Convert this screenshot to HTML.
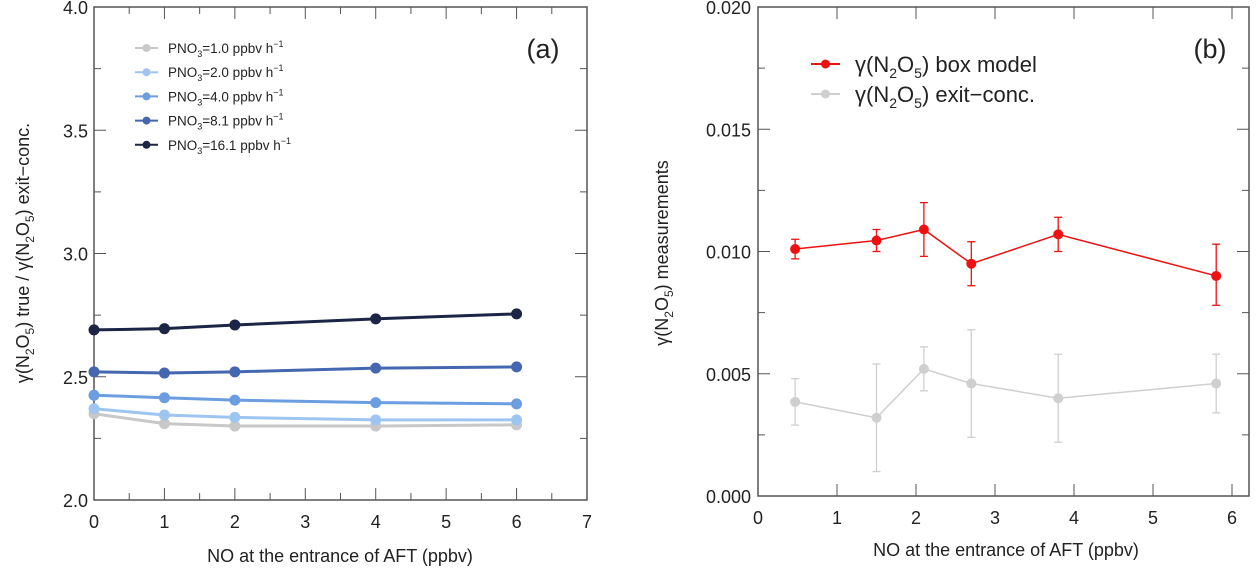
<!DOCTYPE html>
<html><head><meta charset="utf-8">
<style>
body{margin:0;background:#fff;width:1256px;height:576px;overflow:hidden}
svg{font-family:"Liberation Sans",sans-serif}
</style></head>
<body>
<svg id="c" width="1256" height="576"></svg>
<script>
const xA = [0,1,2,4,6];
const seriesNames = ["PNO3=1.0","PNO3=2.0","PNO3=4.0","PNO3=8.1","PNO3=16.1"];
const legendRates = ["1.0","2.0","4.0","8.1","16.1"];
const s1 = [2.35,2.31,2.30,2.30,2.305];
const s2 = [2.37,2.345,2.335,2.325,2.325];
const s4 = [2.425,2.415,2.405,2.395,2.39];
const s8 = [2.52,2.515,2.52,2.535,2.54];
const s16 = [2.69,2.695,2.71,2.735,2.755];
const colorsA = ["#c8c8c8","#9ec5f0","#6b9de0","#4567b0","#1c2545"];
const xTicksA = [0,1,2,3,4,5,6,7];
const yTicksA = [2.0,2.5,3.0,3.5,4.0];

const xB = [0.47,1.5,2.1,2.7,3.8,5.8];
const boxVal = [0.0101,0.01045,0.0109,0.0095,0.0107,0.0090];
const boxHi = [0.0105,0.0109,0.0120,0.0104,0.0114,0.0103];
const boxLo = [0.0097,0.0100,0.0098,0.0086,0.0100,0.0078];
const exitVal = [0.00385,0.0032,0.0052,0.0046,0.0040,0.0046];
const exitHi = [0.0048,0.0054,0.0061,0.0068,0.0058,0.0058];
const exitLo = [0.0029,0.0010,0.0043,0.0024,0.0022,0.0034];
const xTicksB = [0,1,2,3,4,5,6];
const yTicksB = [0.000,0.005,0.010,0.015,0.020];

const NS="http://www.w3.org/2000/svg";
const svg=document.getElementById('c');
function el(t,a,p){const e=document.createElementNS(NS,t);for(const k in a)e.setAttribute(k,a[k]);(p||svg).appendChild(e);return e;}

// Panel A
const A={l:94,r:587,t:7,b:500,x0:0,x1:7,y0:2,y1:4};
const ax=v=>A.l+(v-A.x0)/(A.x1-A.x0)*(A.r-A.l);
const ay=v=>A.b-(v-A.y0)/(A.y1-A.y0)*(A.b-A.t);
const gA=el('g',{});


const frA=el('rect',{x:A.l,y:A.t,width:A.r-A.l,height:A.b-A.t,fill:'none',stroke:'#555','stroke-width':1.5},gA);


for(let v=0;v<=7.001;v+=0.5){const L=(Math.abs(v-Math.round(v))<1e-6)?12:7;const x=ax(v);
 el('line',{x1:x,x2:x,y1:A.b,y2:A.b-L,stroke:'#555'},gA);el('line',{x1:x,x2:x,y1:A.t,y2:A.t+L,stroke:'#555'},gA);}
for(let v=2;v<=4.001;v+=0.25){const L=(Math.abs(v*2-Math.round(v*2))<1e-6)?12:7;const y=ay(v);
 el('line',{x1:A.l,x2:A.l+L,y1:y,y2:y,stroke:'#555'},gA);el('line',{x1:A.r,x2:A.r-L,y1:y,y2:y,stroke:'#555'},gA);}
xTicksA.forEach(v=>{const t=el('text',{x:ax(v),y:528,'text-anchor':'middle','font-size':18,fill:'#222'},gA);t.textContent=v;
 });
yTicksA.forEach(v=>{const t=el('text',{x:A.l-6,y:ay(v)+7,'text-anchor':'end','font-size':18,fill:'#222'},gA);t.textContent=v.toFixed(1);
 });
const xtA=el('text',{x:340,y:562,'text-anchor':'middle','font-size':18,fill:'#222'},gA);xtA.textContent='NO at the entrance of AFT (ppbv)';

const ytA=el('text',{transform:'translate(29,253) rotate(-90)','text-anchor':'middle','font-size':18,fill:'#222'},gA);
ytA.innerHTML='γ(N<tspan font-size="12" dy="5">2</tspan><tspan dy="-5">O</tspan><tspan font-size="12" dy="5">5</tspan><tspan dy="-5">) true / γ(N</tspan><tspan font-size="12" dy="5">2</tspan><tspan dy="-5">O</tspan><tspan font-size="12" dy="5">5</tspan><tspan dy="-5">) exit−conc.</tspan>';

const lab=el('text',{x:543,y:58,'text-anchor':'middle','font-size':27,fill:'#222'},gA);lab.textContent='(a)';

[s1,s2,s4,s8,s16].forEach((s,i)=>{
 const pl=el('polyline',{points:s.map((v,j)=>ax(xA[j])+','+ay(v)).join(' '),fill:'none',stroke:colorsA[i],'stroke-width':3},gA);
 
 s.forEach((v,j)=>{const c=el('circle',{cx:ax(xA[j]),cy:ay(v),r:5.5,fill:colorsA[i]},gA);
  });
});
legendRates.forEach((r,i)=>{const y=48+i*24.2;
 const g=el('g',{},gA);
 el('line',{x1:135,x2:158,y1:y,y2:y,stroke:colorsA[i],'stroke-width':2},g);
 el('circle',{cx:146.5,cy:y,r:4,fill:colorsA[i]},g);
 const t=el('text',{x:168,y:y+5,'font-size':13.5,fill:'#222'},g);
 t.innerHTML='PNO<tspan font-size="9" dy="4">3</tspan><tspan dy="-4">='+r+' ppbv h</tspan><tspan font-size="9" dy="-6">−1</tspan>';
});

// Panel B
const B={l:758,r:1249,t:7,b:496,x0:0,x1:(1249-758)/79,y0:0,y1:0.02};
const bx=v=>B.l+(v-B.x0)/(B.x1-B.x0)*(B.r-B.l);
const by=v=>B.b-(v-B.y0)/(B.y1-B.y0)*(B.b-B.t);
const gB=el('g',{});


const frB=el('rect',{x:B.l,y:B.t,width:B.r-B.l,height:B.b-B.t,fill:'none',stroke:'#555','stroke-width':1.5},gB);


xTicksB.forEach(v=>{const x=bx(v);el('line',{x1:x,x2:x,y1:B.b,y2:B.b-12,stroke:'#555'},gB);el('line',{x1:x,x2:x,y1:B.t,y2:B.t+12,stroke:'#555'},gB);
 const t=el('text',{x:x,y:524,'text-anchor':'middle','font-size':18,fill:'#222'},gB);t.textContent=v;
 });
for(let k=0;k<=8;k++){const v=k*0.0025;const L=k%2==0?12:7;const y=by(v);
 el('line',{x1:B.l,x2:B.l+L,y1:y,y2:y,stroke:'#555'},gB);el('line',{x1:B.r,x2:B.r-L,y1:y,y2:y,stroke:'#555'},gB);}
yTicksB.forEach(v=>{const t=el('text',{x:B.l-7,y:by(v)+7,'text-anchor':'end','font-size':18,fill:'#222'},gB);t.textContent=v.toFixed(3);
 });
const xtB=el('text',{x:1006,y:556,'text-anchor':'middle','font-size':18,fill:'#222'},gB);xtB.textContent='NO at the entrance of AFT (ppbv)';

const ytB=el('text',{transform:'translate(668,253) rotate(-90)','text-anchor':'middle','font-size':18,fill:'#222'},gB);
ytB.innerHTML='γ(N<tspan font-size="12" dy="5">2</tspan><tspan dy="-5">O</tspan><tspan font-size="12" dy="5">5</tspan><tspan dy="-5">) measurements</tspan>';

const labB=el('text',{x:1210,y:58,'text-anchor':'middle','font-size':27,fill:'#222'},gB);labB.textContent='(b)';

function drawSeries(vals,hi,lo,col,name,w){
 const g=el('g',{},gB);
 vals.forEach((v,i)=>{const x=bx(xB[i]);
  el('line',{x1:x,x2:x,y1:by(hi[i]),y2:by(lo[i]),stroke:col,'stroke-width':1.3},g);
  el('line',{x1:x-4,x2:x+4,y1:by(hi[i]),y2:by(hi[i]),stroke:col,'stroke-width':1.3},g);
  el('line',{x1:x-4,x2:x+4,y1:by(lo[i]),y2:by(lo[i]),stroke:col,'stroke-width':1.3},g);});
 el('polyline',{points:vals.map((v,i)=>bx(xB[i])+','+by(v)).join(' '),fill:'none',stroke:col,'stroke-width':w},g);
 vals.forEach((v,i)=>{const c=el('circle',{cx:bx(xB[i]),cy:by(v),r:5,fill:col},g);
  });
}
drawSeries(exitVal,exitHi,exitLo,'#cfcfcf','series-exit-conc',1.5);
drawSeries(boxVal,boxHi,boxLo,'#ee1111','series-box-model',1.5);
[['#ee1111',' box model'],['#cfcfcf',' exit−conc.']].forEach((e,i)=>{const y=64+i*30;
 const g=el('g',{},gB);
 el('line',{x1:811,x2:840,y1:y,y2:y,stroke:e[0],'stroke-width':2},g);
 el('circle',{cx:825.5,cy:y,r:4.5,fill:e[0]},g);
 const t=el('text',{x:855,y:y+8,'font-size':22,fill:'#222'},g);
 t.innerHTML='γ(N<tspan font-size="14" dy="6">2</tspan><tspan dy="-6">O</tspan><tspan font-size="14" dy="6">5</tspan><tspan dy="-6">)'+e[1]+'</tspan>';
});
</script>
</body></html>
